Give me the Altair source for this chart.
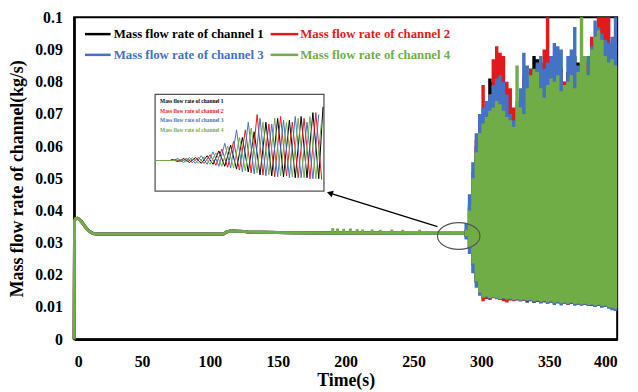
import altair as alt
import pandas as pd

channels = ["Mass flow rate of channel 1", "Mass flow rate of channel 2",
            "Mass flow rate of channel 3", "Mass flow rate of channel 4"]
colors = ["#000000", "#E31A1C", "#4472C4", "#70AD47"]

# steady part (all channels coincide)
steady_t = [0, 0.3, 1, 2.5, 4, 6, 8, 10, 12, 14, 17, 110, 112, 115, 125, 128, 140, 160, 185, 250, 287.5]
steady_v = [0, 0.0368, 0.0375, 0.0376, 0.0372, 0.0362, 0.0350, 0.0340, 0.0333, 0.0328, 0.0327,
            0.0327, 0.0333, 0.0336, 0.0335, 0.0333, 0.0332, 0.0331, 0.0330, 0.0329, 0.0329]

# small spikes of the steady line
spike_t = [190.5, 194, 198.5, 203.5, 208.5, 212.5, 219.5, 225.5, 234, 242, 254.5]
spike_v = [0.0345, 0.0344, 0.0343, 0.0344, 0.0342, 0.0341, 0.0341, 0.0340, 0.0341, 0.0340, 0.0340]
spike_base = 0.0329

# oscillating part: upper / lower envelopes
osc_t = [287.5, 290, 292.5, 295, 297.5, 300, 302.5, 305, 307.5, 310, 312.5, 315, 317.5, 320,
         322.5, 325, 327.5, 330, 332.5, 335, 337.5, 340, 342.5, 345, 347.5, 350, 352.5, 355,
         357.5, 360, 362.5, 365, 367.5, 370, 372.5, 375, 377.5, 380, 382.5, 385, 387.5, 390,
         392.5, 395, 397.5, 400]
upper_1 = [0.034, 0.041, 0.050, 0.060, 0.066, 0.070, 0.074, 0.081, 0.080, 0.082, 0.080, 0.079,
           0.075, 0.072, 0.070, 0.072, 0.074, 0.078, 0.080, 0.084, 0.088, 0.087, 0.084, 0.083,
           0.085, 0.084, 0.086, 0.085, 0.084, 0.080, 0.083, 0.085, 0.088, 0.086, 0.085, 0.086,
           0.088, 0.090, 0.093, 0.094, 0.095, 0.094, 0.092, 0.090, 0.092, 0.093]
upper_2 = [0.034, 0.042, 0.052, 0.062, 0.068, 0.079, 0.072, 0.076, 0.087, 0.091, 0.089, 0.088,
           0.080, 0.078, 0.072, 0.070, 0.075, 0.082, 0.080, 0.084, 0.083, 0.085, 0.086, 0.090,
           0.100, 0.088, 0.085, 0.087, 0.083, 0.080, 0.082, 0.086, 0.084, 0.082, 0.080, 0.085,
           0.087, 0.094, 0.090, 0.100, 0.100, 0.100, 0.100, 0.090, 0.088, 0.095]
upper_3 = [0.036, 0.045, 0.055, 0.064, 0.070, 0.072, 0.074, 0.076, 0.079, 0.081, 0.082, 0.080,
           0.076, 0.070, 0.068, 0.074, 0.078, 0.089, 0.085, 0.080, 0.082, 0.086, 0.088, 0.084,
           0.086, 0.088, 0.092, 0.091, 0.090, 0.078, 0.088, 0.090, 0.097, 0.085, 0.086, 0.083,
           0.088, 0.091, 0.099, 0.097, 0.095, 0.093, 0.092, 0.094, 0.100, 0.100]
upper_4 = [0.034, 0.040, 0.050, 0.058, 0.064, 0.067, 0.069, 0.071, 0.072, 0.074, 0.073, 0.071,
           0.069, 0.068, 0.066, 0.085, 0.072, 0.070, 0.078, 0.082, 0.084, 0.083, 0.078, 0.075,
           0.079, 0.081, 0.080, 0.082, 0.077, 0.079, 0.080, 0.082, 0.078, 0.083, 0.100, 0.088,
           0.082, 0.090, 0.094, 0.096, 0.093, 0.088, 0.086, 0.087, 0.085, 0.085]
lower_1 = [0.0318, 0.0282, 0.0232, 0.0178, 0.0143, 0.0128, 0.0130, 0.0126, 0.0128, 0.0125, 0.0123,
           0.0125, 0.0121, 0.0123, 0.0120, 0.0122, 0.0118, 0.0120, 0.0114, 0.0118, 0.0113, 0.0116,
           0.0112, 0.0115, 0.0111, 0.0114, 0.0110, 0.0112, 0.0109, 0.0111, 0.0107, 0.0109, 0.0106,
           0.0108, 0.0105, 0.0107, 0.0103, 0.0105, 0.0101, 0.0104, 0.0099, 0.0101, 0.0097, 0.0094,
           0.0090, 0.0088]
lower_2 = [0.0318, 0.0280, 0.0230, 0.0175, 0.0140, 0.0118, 0.0125, 0.0122, 0.0127, 0.0124, 0.0122,
           0.0118, 0.0114, 0.0120, 0.0118, 0.0120, 0.0119, 0.0120, 0.0118, 0.0120, 0.0116, 0.0118,
           0.0114, 0.0117, 0.0113, 0.0115, 0.0112, 0.0114, 0.0110, 0.0112, 0.0108, 0.0110, 0.0107,
           0.0109, 0.0106, 0.0108, 0.0104, 0.0103, 0.0102, 0.0105, 0.0101, 0.0103, 0.0099, 0.0097,
           0.0094, 0.0091]
lower_3 = [0.0310, 0.0265, 0.0205, 0.0160, 0.0135, 0.0128, 0.0130, 0.0126, 0.0128, 0.0125, 0.0123,
           0.0126, 0.0122, 0.0124, 0.0120, 0.0122, 0.0118, 0.0121, 0.0117, 0.0119, 0.0115, 0.0118,
           0.0112, 0.0116, 0.0110, 0.0114, 0.0106, 0.0112, 0.0105, 0.0110, 0.0108, 0.0111, 0.0104,
           0.0108, 0.0106, 0.0107, 0.0104, 0.0106, 0.0100, 0.0104, 0.0098, 0.0100, 0.0095, 0.0090,
           0.0088, 0.0090]
lower_4 = [0.0320, 0.0285, 0.0235, 0.0180, 0.0145, 0.0130, 0.0133, 0.0128, 0.0130, 0.0127, 0.0125,
           0.0128, 0.0124, 0.0126, 0.0122, 0.0125, 0.0121, 0.0123, 0.0120, 0.0122, 0.0118, 0.0120,
           0.0116, 0.0119, 0.0115, 0.0117, 0.0113, 0.0116, 0.0112, 0.0114, 0.0110, 0.0113, 0.0109,
           0.0111, 0.0108, 0.0110, 0.0106, 0.0108, 0.0104, 0.0107, 0.0103, 0.0105, 0.0100, 0.0098,
           0.0095, 0.0092]
uppers = [upper_1, upper_2, upper_3, upper_4]
lowers = [lower_1, lower_2, lower_3, lower_4]

# inset (zoomed view): u = 0..100 across the inset, w = relative amplitude
ins_u = [
    [0, 9, 10, 13.5, 17, 20.5, 24, 27.5, 31, 34.5, 38, 41.5, 45, 48.5, 52, 55.5, 59, 62.5, 66,
     69.5, 73, 76.5, 80, 83.5, 87, 90.5, 94, 97.5, 100],
    [0, 10, 11.75, 15.25, 18.75, 22.25, 25.75, 29.25, 32.75, 36.25, 39.75, 43.25, 46.75, 50.25,
     53.75, 57.25, 60.75, 64.25, 67.75, 71.25, 74.75, 78.25, 81.75, 85.25, 88.75, 92.25, 95.75, 99.25],
    [0, 11, 13.5, 17, 20.5, 24, 27.5, 31, 34.5, 38, 41.5, 45, 48.5, 52, 55.5, 59, 62.5, 66, 69.5,
     73, 76.5, 80, 83.5, 87, 90.5, 94, 97.5],
    [0, 12, 15.25, 18.75, 22.25, 25.75, 29.25, 32.75, 36.25, 39.75, 43.25, 46.75, 50.25, 53.75,
     57.25, 60.75, 64.25, 67.75, 71.25, 74.75, 78.25, 81.75, 85.25, 88.75, 92.25, 95.75, 99.25],
]
ins_w = [
    [0, 0, 1, -1, 2, -2, 3, -3, 5, -4, 10, -6, 16, -9, 24, -12, 30, -15, 40, -16, 44, -17, 42,
     -18, 46, -18, 50, -19, 56],
    [0, 0, 1, -1, 2, -2, 3, -3, 6, -5, 12, -7, 20, -10, 32, -13, 48, -15, 38, -17, 46, -16, 40,
     -18, 44, -19, 50, -20],
    [0, 0, 2, -2, 3, -3, 5, -4, 9, -6, 18, -8, 32, -12, 40, -14, 44, -16, 38, -17, 42, -18, 46,
     -18, 40, -19, 48],
    [0, 0, 1, -1, 3, -3, 4, -4, 8, -6, 15, -8, 24, -11, 34, -13, 40, -15, 44, -16, 40, -17, 44,
     -18, 46, -19, 42],
]

x_ticks = [0, 50, 100, 150, 200, 250, 300, 350, 400]
y_ticks = [0, 0.01, 0.02, 0.03, 0.04, 0.05, 0.06, 0.07, 0.08, 0.09, 0.1]
y_labels = ["0", "0.01", "0.02", "0.03", "0.04", "0.05", "0.06", "0.07", "0.08", "0.09", "0.1"]

# ---- tables -------------------------------------------------------------
steady_df = pd.DataFrame([
    {"channel": ch, "t": t, "v": v}
    for ch in channels for t, v in zip(steady_t, steady_v)
])
osc_frames = []
for ch, up, lo in zip(channels, uppers, lowers):
    assert len(up) == len(osc_t) and len(lo) == len(osc_t)
    osc_frames.append(pd.DataFrame({"channel": ch, "t": osc_t, "upper": up, "lower": lo}))
spike_df = pd.DataFrame({"t": spike_t, "v": spike_v, "base": spike_base})

# inset placement on main axes
INS_T0, INS_TU = 59.64, 1.2364
INS_V0, INS_VW = 0.05552, 0.0002975
ins_rows = []
for ch, us, ws in zip(channels, ins_u, ins_w):
    assert len(us) == len(ws)
    for i, (u, w) in enumerate(zip(us, ws)):
        ins_rows.append({"channel": ch, "i": i, "t": INS_T0 + u * INS_TU, "v": INS_V0 + w * INS_VW})
ins_df = pd.DataFrame(ins_rows)

FONT = "Liberation Serif"
xs = alt.Scale(domain=[0, 400], nice=False)
ys = alt.Scale(domain=[0, 0.1], nice=False)
cs = alt.Scale(domain=channels, range=colors)
x_axis = alt.Axis(values=x_ticks, labelPadding=15, titlePadding=2, labelFontSize=16,
                  labelOverlap=False)
y_label_expr = "{" + ",".join(f"'{v}':'{s}'" for v, s in zip(y_ticks, y_labels)) + "}[toString(round(datum.value*100)/100)]"
y_axis = alt.Axis(values=y_ticks, labelPadding=12, titlePadding=8,
                  labelFontSize=16, labelOverlap=False, labelSeparation=0,
                  labelExpr="format(datum.value, '~g')")
XT = "Time(s)"
YT = "Mass flow rate of channel(kg/s)"
X = alt.X("t:Q", scale=xs, title=XT, axis=x_axis)
Y = alt.Y("v:Q", scale=ys, title=YT, axis=y_axis)

one = pd.DataFrame({"a": [0]})

steady = alt.Chart(steady_df).mark_line(strokeWidth=3).encode(
    x=X, y=Y, stroke=alt.Stroke("channel:N", scale=cs, legend=None))

areas = []
for ch, col, df in zip(channels, colors, osc_frames):
    areas.append(alt.Chart(df).mark_area(interpolate="step-after", color=col).encode(
        x=X, y=alt.Y("lower:Q", scale=ys, title=YT, axis=y_axis), y2="upper:Q"))

spikes = alt.Chart(spike_df).mark_rule(color=colors[3], strokeWidth=3).encode(
    x=X, y=alt.Y("base:Q", scale=ys, title=YT, axis=y_axis), y2="v:Q")

inset_box = alt.Chart(one).mark_rect(fill="white", stroke="#555555", strokeWidth=1.3).encode(
    x=alt.value(82), x2=alt.value(253), y=alt.value(78), y2=alt.value(176))

inset_lines = alt.Chart(ins_df).mark_line(strokeWidth=1).encode(
    x=X, y=Y, order="i:Q", stroke=alt.Stroke("channel:N", scale=cs, legend=None))

layers = [steady] + areas + [spikes, inset_box, inset_lines]

# inset legend
for k, (ch, col) in enumerate(zip(channels, colors)):
    layers.append(alt.Chart(one).mark_text(
        text=ch, font=FONT, fontWeight="bold", fontSize=5.5, color=col, align="left",
        baseline="middle").encode(x=alt.value(87), y=alt.value(85 + 9.7 * k)))

# main legend
leg_pos = [(11, 37, 40, 17), (199, 227, 229, 17), (11, 37, 40, 38), (199, 227, 229, 38)]
for (x1, x2, xt, yy), ch, col in zip(leg_pos, channels, colors):
    layers.append(alt.Chart(one).mark_rule(color=col, strokeWidth=2.5).encode(
        x=alt.value(x1), x2=alt.value(x2), y=alt.value(yy)))
    layers.append(alt.Chart(one).mark_text(
        text=ch, font=FONT, fontWeight="bold", fontSize=13, color=col, align="left",
        baseline="middle").encode(x=alt.value(xt), y=alt.value(yy)))

# arrow and ellipse
layers.append(alt.Chart(one).mark_rule(color="black", strokeWidth=1.3).encode(
    x=alt.value(368), y=alt.value(212), x2=alt.value(259), y2=alt.value(178)))
layers.append(alt.Chart(one).mark_point(shape="triangle-left", filled=True, color="black",
                                        size=50, angle=17, opacity=1).encode(
    x=alt.value(259), y=alt.value(178)))
layers.append(alt.Chart(one).mark_point(
    shape="M -1 0 A 1 0.63 0 1 1 1 0 A 1 0.63 0 1 1 -1 0 Z", filled=False,
    stroke="#555555", strokeWidth=1.2, size=1849, opacity=1).encode(
    x=alt.value(389.5), y=alt.value(221.5)))

chart = alt.layer(*layers).properties(
    width=550, height=326,
    autosize=alt.AutoSizeParams(type="none"),
    padding={"left": 67, "top": 7, "right": 13, "bottom": 50},
    background="white",
).configure_view(stroke="black", strokeWidth=2).configure_axis(
    grid=False, ticks=False, domainColor="black", domainWidth=2.5, labelOverlap=False,
    labelFont=FONT, labelFontWeight="bold", labelColor="black",
    titleFont=FONT, titleFontWeight="bold", titleFontSize=18, titleColor="black",
)

chart.save("out.html", embed_options={"renderer": "svg", "actions": False})
